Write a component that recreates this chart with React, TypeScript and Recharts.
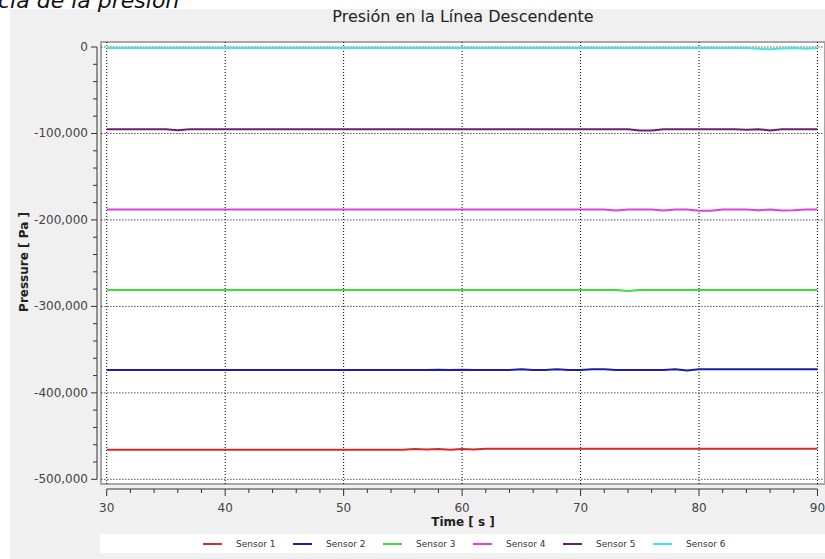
import React from 'react';
import { LineChart, Line, XAxis, YAxis, ReferenceLine } from 'recharts';

// time in seconds, one sample per second
const time = [
  30, 31, 32, 33, 34, 35, 36, 37, 38, 39,
  40, 41, 42, 43, 44, 45, 46, 47, 48, 49,
  50, 51, 52, 53, 54, 55, 56, 57, 58, 59,
  60, 61, 62, 63, 64, 65, 66, 67, 68, 69,
  70, 71, 72, 73, 74, 75, 76, 77, 78, 79,
  80, 81, 82, 83, 84, 85, 86, 87, 88, 89,
  90,
];

const sensor1 = [
  -465800, -465800, -465800, -465800, -465800, -465800, -465800, -465800, -465800, -465800,
  -465800, -465800, -465800, -465800, -465800, -465800, -465800, -465800, -465800, -465800,
  -465800, -465800, -465800, -465800, -465800, -465800, -465000, -465600, -464800, -465800,
  -465000, -465600, -464600, -464600, -464600, -464600, -464600, -464600, -464600, -464600,
  -464600, -464600, -464600, -464600, -464600, -464600, -464600, -464600, -464600, -464600,
  -464600, -464600, -464600, -464600, -464600, -464600, -464600, -464600, -464600, -464600,
  -464600,
];

const sensor2 = [
  -373700, -373700, -373700, -373700, -373700, -373700, -373700, -373700, -373700, -373700,
  -373700, -373700, -373700, -373700, -373700, -373700, -373700, -373700, -373700, -373700,
  -373700, -373700, -373700, -373700, -373700, -373700, -373700, -373700, -373200, -373700,
  -373200, -373700, -373700, -373700, -373700, -372700, -373700, -373700, -372700, -373700,
  -373700, -372700, -372700, -373700, -373700, -373700, -373700, -373700, -372700, -374200,
  -372700, -372700, -372700, -372700, -372700, -372700, -372700, -372700, -372700, -372700,
  -372700,
];

const sensor3 = [
  -281000, -281000, -281000, -281000, -281000, -281000, -281000, -281000, -281000, -281000,
  -281000, -281000, -281000, -281000, -281000, -281000, -281000, -281000, -281000, -281000,
  -281000, -281000, -281000, -281000, -281000, -281000, -281000, -281000, -281000, -281000,
  -281000, -281000, -281000, -281000, -281000, -281000, -281000, -281000, -281000, -281000,
  -281000, -281000, -281000, -281000, -282200, -281000, -281000, -281000, -281000, -281000,
  -281000, -281000, -281000, -281000, -281000, -281000, -281000, -281000, -281000, -281000,
  -281000,
];

const sensor4 = [
  -188000, -188000, -188000, -188000, -188000, -188000, -188000, -188000, -188000, -188000,
  -188000, -188000, -188000, -188000, -188000, -188000, -188000, -188000, -188000, -188000,
  -188000, -188000, -188000, -188000, -188000, -188000, -188000, -188000, -188000, -188000,
  -188000, -188000, -188000, -188000, -188000, -188000, -188000, -188000, -188000, -188000,
  -188000, -188000, -188000, -189000, -188000, -188000, -188000, -189200, -188000, -188000,
  -189500, -189500, -188000, -188000, -188000, -188900, -188000, -189000, -188800, -188000,
  -188000,
];

const sensor5 = [
  -95000, -95000, -95000, -95000, -95000, -95000, -96200, -95000, -95000, -95000,
  -95000, -95000, -95000, -95000, -95000, -95000, -95000, -95000, -95000, -95000,
  -95000, -95000, -95000, -95000, -95000, -95000, -95000, -95000, -95000, -95000,
  -95000, -95000, -95000, -95000, -95000, -95000, -95000, -95000, -95000, -95000,
  -95000, -95000, -95000, -95000, -95000, -96500, -96500, -95000, -95000, -95000,
  -95000, -95000, -95000, -95000, -95800, -95000, -96500, -95000, -95000, -95000,
  -95000,
];

const sensor6 = [
  -1200, -1200, -1200, -1200, -1200, -1200, -1200, -1200, -1200, -1200,
  -1200, -1200, -1200, -1200, -1200, -1200, -1200, -1200, -1200, -1200,
  -1200, -1200, -1200, -1200, -1200, -1200, -1200, -1200, -1200, -1200,
  -1200, -1200, -1200, -1200, -1200, -1200, -1200, -1200, -1200, -1200,
  -1200, -1200, -1200, -1200, -1200, -1200, -1200, -1200, -1200, -1200,
  -1200, -1200, -1200, -1200, -1200, -2000, -2600, -1800, -1200, -2000,
  -1200,
];

const seriesNames = ['Sensor 1', 'Sensor 2', 'Sensor 3', 'Sensor 4', 'Sensor 5', 'Sensor 6'];
const seriesColors = ['#d42a2a', '#1c1cae', '#3ae03a', '#e040e0', '#6e1e72', '#40e4e4'];
const seriesValues = [sensor1, sensor2, sensor3, sensor4, sensor5, sensor6];

const xMajorTicks = [30, 40, 50, 60, 70, 80, 90];
const xMinorTicks = [
  30, 32, 34, 36, 38, 40, 42, 44, 46, 48, 50, 52, 54, 56, 58, 60,
  62, 64, 66, 68, 70, 72, 74, 76, 78, 80, 82, 84, 86, 88, 90,
];
const yMajorTicks = [0, -100000, -200000, -300000, -400000, -500000];
const yMinorTicks = [
  0, -20000, -40000, -60000, -80000, -100000, -120000, -140000, -160000, -180000,
  -200000, -220000, -240000, -260000, -280000, -300000, -320000, -340000, -360000,
  -380000, -400000, -420000, -440000, -460000, -480000, -500000,
];

const X_MIN = 29.18;
const X_MAX = 90.55;
const Y_MIN = -511200;
const Y_MAX = 5800;
// edges of the white plot box, in data units
const BOX_LEFT = 29.55;
const BOX_BOTTOM = -506000;

const data = time.map((t, i) => {
  const row: Record<string, number> = { t };
  seriesValues.forEach((vals, k) => {
    row['s' + (k + 1)] = vals[i];
  });
  return row;
});

const font = '"DejaVu Sans", Verdana, sans-serif';

const XTick = (props: any) => {
  const { x, y, payload } = props;
  const major = xMajorTicks.includes(payload.value);
  return (
    <g>
      <line x1={x} y1={y} x2={x} y2={y + (major ? 7 : 4)} stroke="#333" />
      {major && (
        <text x={x} y={y + 23} textAnchor="middle" fontSize={12} fill="#444" fontFamily={font}>
          {payload.value}
        </text>
      )}
    </g>
  );
};

const YTick = (props: any) => {
  const { x, y, payload } = props;
  const major = yMajorTicks.includes(payload.value);
  return (
    <g>
      <line x1={x - (major ? 6 : 4)} y1={y} x2={x} y2={y} stroke="#333" />
      {major && (
        <text x={x - 9} y={y + 4} textAnchor="end" fontSize={12} fill="#444" fontFamily={font}>
          {payload.value.toLocaleString('en-US')}
        </text>
      )}
    </g>
  );
};

const App: React.FC = () => {
  return (
    <div style={{ position: 'absolute', left: 0, top: 0, width: 825, height: 559, background: '#fff', overflow: 'hidden', fontFamily: font }}>
      <div style={{ position: 'absolute', left: 10, top: 9, right: 0, bottom: 0, background: '#f0f0f0' }} />
      <div
        style={{
          position: 'absolute', left: 100, top: 41, width: 726, height: 444,
          background: '#fff', border: '2px solid #a8a8a8', boxSizing: 'border-box',
        }}
      />
      <svg width={825} height={559} style={{ position: 'absolute', left: 0, top: 0 }}>
        <text x={-2} y={7.5} fontSize={22} fontStyle="italic" fontFamily={font} fill="#111">
          cia de la presión
        </text>
        <text x={463} y={22} textAnchor="middle" fontSize={16} fontFamily={font} fill="#222">
          Presión en la Línea Descendente
        </text>
        <text x={463} y={526} textAnchor="middle" fontSize={12} fontWeight="bold" fontFamily={font} fill="#222">
          Time [ s ]
        </text>
        <text x={28} y={262} textAnchor="middle" fontSize={12} fontWeight="bold" fontFamily={font} fill="#222" transform="rotate(-90, 28, 262)">
          Pressure [ Pa ]
        </text>
      </svg>
      <div style={{ position: 'absolute', left: 0, top: 0 }}>
        <LineChart width={825} height={559} data={data} margin={{ top: 42, right: 1, bottom: 0, left: 0 }}>
          <XAxis
            dataKey="t"
            type="number"
            domain={[X_MIN, X_MAX]}
            allowDataOverflow
            ticks={xMinorTicks}
            interval={0}
            tick={<XTick />}
            tickSize={0}
            tickMargin={0}
            axisLine={false}
            tickLine={false}
            height={70}
          />
          <YAxis
            type="number"
            domain={[Y_MIN, Y_MAX]}
            allowDataOverflow
            ticks={yMinorTicks}
            interval={0}
            tick={<YTick />}
            tickSize={0}
            tickMargin={0}
            axisLine={false}
            tickLine={false}
            width={97}
          />
          {yMajorTicks.map((v) => (
            <ReferenceLine
              key={'gy' + v}
              segment={[{ x: BOX_LEFT, y: v }, { x: X_MAX, y: v }]}
              stroke="#000"
              strokeDasharray="1 2"
              ifOverflow="visible"
            />
          ))}
          {xMajorTicks.map((v) => (
            <ReferenceLine
              key={'gx' + v}
              segment={[{ x: v, y: Y_MAX }, { x: v, y: BOX_BOTTOM }]}
              stroke="#000"
              strokeDasharray="1 2"
              ifOverflow="visible"
            />
          ))}
          <ReferenceLine
            segment={[{ x: X_MIN, y: yMajorTicks[0] }, { x: X_MIN, y: yMajorTicks[yMajorTicks.length - 1] }]}
            stroke="#333"
            ifOverflow="visible"
          />
          <ReferenceLine
            segment={[{ x: xMajorTicks[0], y: Y_MIN }, { x: xMajorTicks[xMajorTicks.length - 1], y: Y_MIN }]}
            stroke="#333"
            ifOverflow="visible"
          />
          {seriesNames.map((name, k) => (
            <Line
              key={name}
              type="linear"
              dataKey={'s' + (k + 1)}
              name={name}
              stroke={seriesColors[k]}
              strokeWidth={2}
              dot={false}
              isAnimationActive={false}
            />
          ))}
        </LineChart>
      </div>
      <div style={{ position: 'absolute', left: 100, top: 534, width: 726, height: 19, background: '#fff' }} />
      <div style={{ position: 'absolute', left: 203, top: 534, height: 19, display: 'flex', alignItems: 'center' }}>
        {seriesNames.map((name, k) => (
          <div key={name} style={{ width: 90, display: 'flex', alignItems: 'center' }}>
            <span style={{ display: 'inline-block', width: 19, height: 2, background: seriesColors[k], marginRight: 14 }} />
            <span style={{ fontSize: 9, color: '#333', whiteSpace: 'nowrap' }}>{name}</span>
          </div>
        ))}
      </div>
    </div>
  );
};

export default App;
